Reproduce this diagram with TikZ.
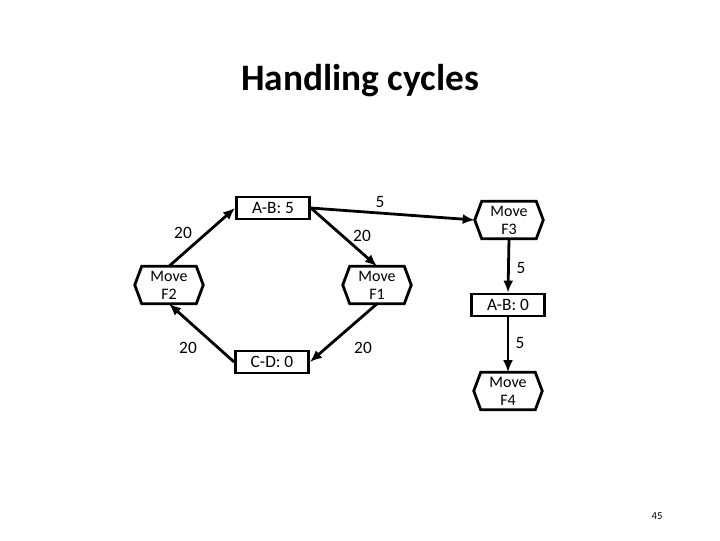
\documentclass[tikz,border=0pt]{standalone}
\usepackage{fontspec}
\setmainfont{Carlito}
\usetikzlibrary{arrows.meta}
\begin{document}
\begin{tikzpicture}[x=0.75pt,y=-0.75pt,
  boxline/.style={line width=2.1pt},
  rbox/.style={draw, boxline, minimum width=0.75*73pt, minimum height=0.75*22pt, inner sep=0pt, font=\fontsize{13}{15}\selectfont},
  hexn/.style={minimum width=0.75*68pt, minimum height=0.75*37pt, inner sep=0pt, align=center, font=\fontsize{12}{13.5}\selectfont},
  conn/.style={line width=2.1pt, -{Latex[length=9pt,width=7.5pt]}},
  lbl/.style={font=\fontsize{13}{15}\selectfont, inner sep=0pt}
]
\useasboundingbox (0,0) rectangle (720,540);
\node[font=\fontsize{28}{32}\selectfont\bfseries] (title) at (360,81) {Handling cycles};
\node[rbox] (ab5) at (273,208) {A-B: 5};
\node[rbox] (cd) at (272,362) {C-D: 0};
\node[rbox] (ab0) at (508,305) {A-B: 0};
\node[hexn] (f2) at (169,285) {Move\\F2};
\node[hexn] (f1) at (377,285) {Move\\F1};
\node[hexn] (f3) at (509,220) {Move\\F3};
\node[hexn] (f4) at (508,391) {Move\\F4};
\foreach \h in {f1,f2,f3,f4}{
  \draw[boxline, line join=miter] ([xshift=5.25pt]\h.north west) -- ([xshift=-5.25pt]\h.north east) -- (\h.east) -- ([xshift=-5.25pt]\h.south east) -- ([xshift=5.25pt]\h.south west) -- (\h.west) -- cycle;
}
\draw[conn] (f2.north) -- (ab5.west);
\draw[conn] (ab5.east) -- (f1.north);
\draw[conn] (f1.south) -- (cd.east);
\draw[conn] (cd.west) -- (f2.south);
\draw[conn] (ab5.east) -- (f3.west);
\draw[conn] (f3.south) -- (ab0.north);
\draw[conn] (ab0.south) -- (f4.north);
\node[lbl] (l1) at (183,233) {20};
\node[lbl] (l2) at (362,236) {20};
\node[lbl] (l3) at (380,202) {5};
\node[lbl] (l4) at (188,348) {20};
\node[lbl] (l5) at (363,348) {20};
\node[lbl] (l6) at (521,268) {5};
\node[lbl] (l7) at (520,343) {5};
\node[font=\fontsize{8}{9}\selectfont, inner sep=0pt] (pg) at (657,516) {45};
\end{tikzpicture}
\end{document}
